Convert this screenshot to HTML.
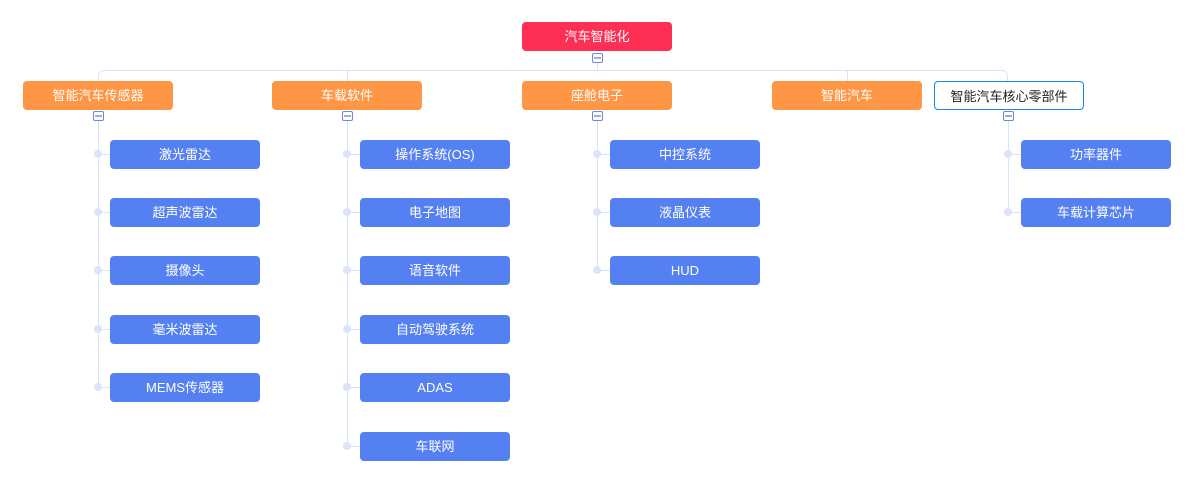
<!DOCTYPE html>
<html><head><meta charset="utf-8"><style>
body{margin:0;width:1194px;height:483px;background:#fff;position:relative;overflow:hidden;font-family:"Liberation Sans","Noto Sans CJK SC",sans-serif;}
.n{position:absolute;width:150px;height:29px;border-radius:4px;color:#fff;font-size:13px;line-height:29px;text-align:center;box-sizing:border-box}
.o{background:#fe9645}
.b{background:#5580f2}
.l{position:absolute;background:#d8e3fb}
.d{position:absolute;width:8px;height:8px;border-radius:50%;background:#dbe4fb}
.c{position:absolute;width:11px;height:10px;border:1px solid #6d86d6;border-radius:2px;background:#fff;box-sizing:border-box}
.c::after{content:"";position:absolute;left:1px;right:1px;top:3px;height:2px;background:#9aaee8}
</style></head><body>
<div class="l" style="left:597px;top:60px;width:1px;height:10px"></div>
<div style="position:absolute;left:98px;top:70px;width:910px;height:12px;border:1px solid #d8e3fb;border-bottom:none;border-radius:6px 6px 0 0;box-sizing:border-box"></div>
<div class="l" style="left:347px;top:70px;width:1px;height:11px"></div>
<div class="l" style="left:847px;top:70px;width:1px;height:11px"></div>

<div class="n" style="left:522px;top:22px;background:#fd2f54">汽车智能化</div>
<div class="c" style="left:592px;top:53px"></div>

<div class="n o" style="left:23px;top:81px">智能汽车传感器</div>
<div class="n o" style="left:272px;top:81px">车载软件</div>
<div class="n o" style="left:522px;top:81px">座舱电子</div>
<div class="n o" style="left:772px;top:81px">智能汽车</div>
<div class="n" style="left:934px;top:81px;background:#fff;border:1px solid #1a84f0;color:#222">智能汽车核心零部件</div>

<!-- col1 -->
<div class="l" style="left:98px;top:121px;width:1px;height:267px"></div>
<div class="l" style="left:347px;top:121px;width:1px;height:326px"></div>
<div class="l" style="left:597px;top:121px;width:1px;height:150px"></div>
<div class="l" style="left:1008px;top:121px;width:1px;height:92px"></div>
<div class="c" style="left:93px;top:111px"></div>
<div class="c" style="left:342px;top:111px"></div>
<div class="c" style="left:592px;top:111px"></div>
<div class="c" style="left:1003px;top:111px"></div>

<div class="d" style="left:94px;top:150px"></div><div class="l" style="left:98px;top:154px;width:12px;height:1px"></div><div class="n b" style="left:110px;top:140px">激光雷达</div>
<div class="d" style="left:94px;top:208px"></div><div class="l" style="left:98px;top:212px;width:12px;height:1px"></div><div class="n b" style="left:110px;top:198px">超声波雷达</div>
<div class="d" style="left:94px;top:266px"></div><div class="l" style="left:98px;top:270px;width:12px;height:1px"></div><div class="n b" style="left:110px;top:256px">摄像头</div>
<div class="d" style="left:94px;top:325px"></div><div class="l" style="left:98px;top:329px;width:12px;height:1px"></div><div class="n b" style="left:110px;top:315px">毫米波雷达</div>
<div class="d" style="left:94px;top:383px"></div><div class="l" style="left:98px;top:387px;width:12px;height:1px"></div><div class="n b" style="left:110px;top:373px">MEMS传感器</div>

<div class="d" style="left:343px;top:150px"></div><div class="l" style="left:347px;top:154px;width:13px;height:1px"></div><div class="n b" style="left:360px;top:140px">操作系统(OS)</div>
<div class="d" style="left:343px;top:208px"></div><div class="l" style="left:347px;top:212px;width:13px;height:1px"></div><div class="n b" style="left:360px;top:198px">电子地图</div>
<div class="d" style="left:343px;top:266px"></div><div class="l" style="left:347px;top:270px;width:13px;height:1px"></div><div class="n b" style="left:360px;top:256px">语音软件</div>
<div class="d" style="left:343px;top:325px"></div><div class="l" style="left:347px;top:329px;width:13px;height:1px"></div><div class="n b" style="left:360px;top:315px">自动驾驶系统</div>
<div class="d" style="left:343px;top:383px"></div><div class="l" style="left:347px;top:387px;width:13px;height:1px"></div><div class="n b" style="left:360px;top:373px">ADAS</div>
<div class="d" style="left:343px;top:442px"></div><div class="l" style="left:347px;top:446px;width:13px;height:1px"></div><div class="n b" style="left:360px;top:432px">车联网</div>

<div class="d" style="left:593px;top:150px"></div><div class="l" style="left:597px;top:154px;width:13px;height:1px"></div><div class="n b" style="left:610px;top:140px">中控系统</div>
<div class="d" style="left:593px;top:208px"></div><div class="l" style="left:597px;top:212px;width:13px;height:1px"></div><div class="n b" style="left:610px;top:198px">液晶仪表</div>
<div class="d" style="left:593px;top:266px"></div><div class="l" style="left:597px;top:270px;width:13px;height:1px"></div><div class="n b" style="left:610px;top:256px">HUD</div>

<div class="d" style="left:1004px;top:150px"></div><div class="l" style="left:1008px;top:154px;width:13px;height:1px"></div><div class="n b" style="left:1021px;top:140px">功率器件</div>
<div class="d" style="left:1004px;top:208px"></div><div class="l" style="left:1008px;top:212px;width:13px;height:1px"></div><div class="n b" style="left:1021px;top:198px">车载计算芯片</div>
</body></html>
